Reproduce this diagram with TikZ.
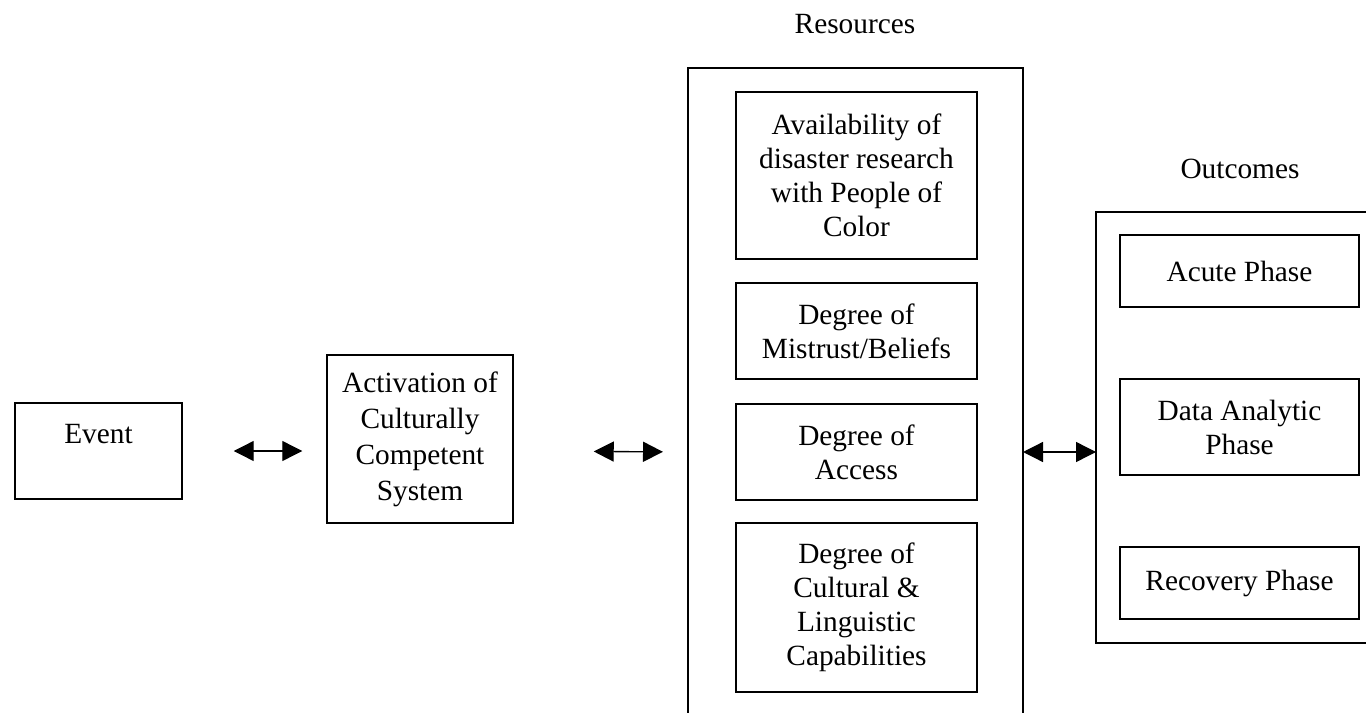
\documentclass[tikz,border=0pt]{standalone}
\usepackage{fontspec}
\setmainfont{Liberation Serif}
\usetikzlibrary{arrows.meta}

\tikzset{every picture/.style={line width=1.1pt},
  box/.style={draw, align=center, inner sep=0pt, font=\fontsize{22}{25.5}\selectfont},
  head/.style={font=\fontsize{22}{25.5}\selectfont, anchor=base},
  link/.style={{Triangle[length=15pt,width=15pt]}-{Triangle[length=15pt,width=15pt]}, line width=1pt}}

\begin{document}
\begin{tikzpicture}[x=0.75pt,y=-0.75pt]
        \useasboundingbox (0,0) rectangle (1366,713);
        \node[box, minimum width=125.25pt, text height=26pt, text depth=38pt, inner ysep=4pt] (event) at (98.5,451) {Event};
        \node[box, minimum width=139.5pt, minimum height=126pt, font=\fontsize{22}{27}\selectfont] (activ) at (420,439) {Activation of\\Culturally\\Competent\\System};
        % resources
        \draw (688,720) -- (688,68) -- (1023,68) -- (1023,720);
        \coordinate (resL) at (688,452);
        \coordinate (resR) at (1023,452);
        \node[head] (reslabel) at (855,34) {Resources};
        \node[box, minimum width=180.75pt, minimum height=125.25pt] (avail) at (856.5,175.5) {Availability of\\disaster research\\with People of\\Color};
        \node[box, minimum width=180.75pt, minimum height=72pt] (mistrust) at (856.5,331) {Degree of\\Mistrust/Beliefs};
        \node[box, minimum width=180.75pt, minimum height=72pt] (access) at (856.5,452) {Degree of\\Access};
        \node[box, minimum width=180.75pt, minimum height=126.75pt] (cultural) at (856.5,607.5) {Degree of\\Cultural \&\\Linguistic\\Capabilities};
        % outcomes
        \draw (1370,212) -- (1096,212) -- (1096,643) -- (1370,643);
        \coordinate (outL) at (1096,452);
        \node[head] (outlabel) at (1240,178) {Outcomes};
        \node[box, minimum width=179.25pt, minimum height=54pt] (acute) at (1239.5,271) {Acute Phase};
        \node[box, minimum width=179.25pt, minimum height=72pt] (data) at (1239.5,427) {Data Analytic\\Phase};
        \node[box, minimum width=179.25pt, minimum height=54pt] (recovery) at (1239.5,583) {Recovery Phase};
        \draw[link, shorten <=38.25pt, shorten >=18pt] (event.east) -- (event.east -| activ.west);
        \draw[link, shorten <=60pt, shorten >=18.75pt] (activ.east |- event.east) -- (resL);
        \draw[link] (resR) -- (outL);
    \end{tikzpicture}
\end{document}
